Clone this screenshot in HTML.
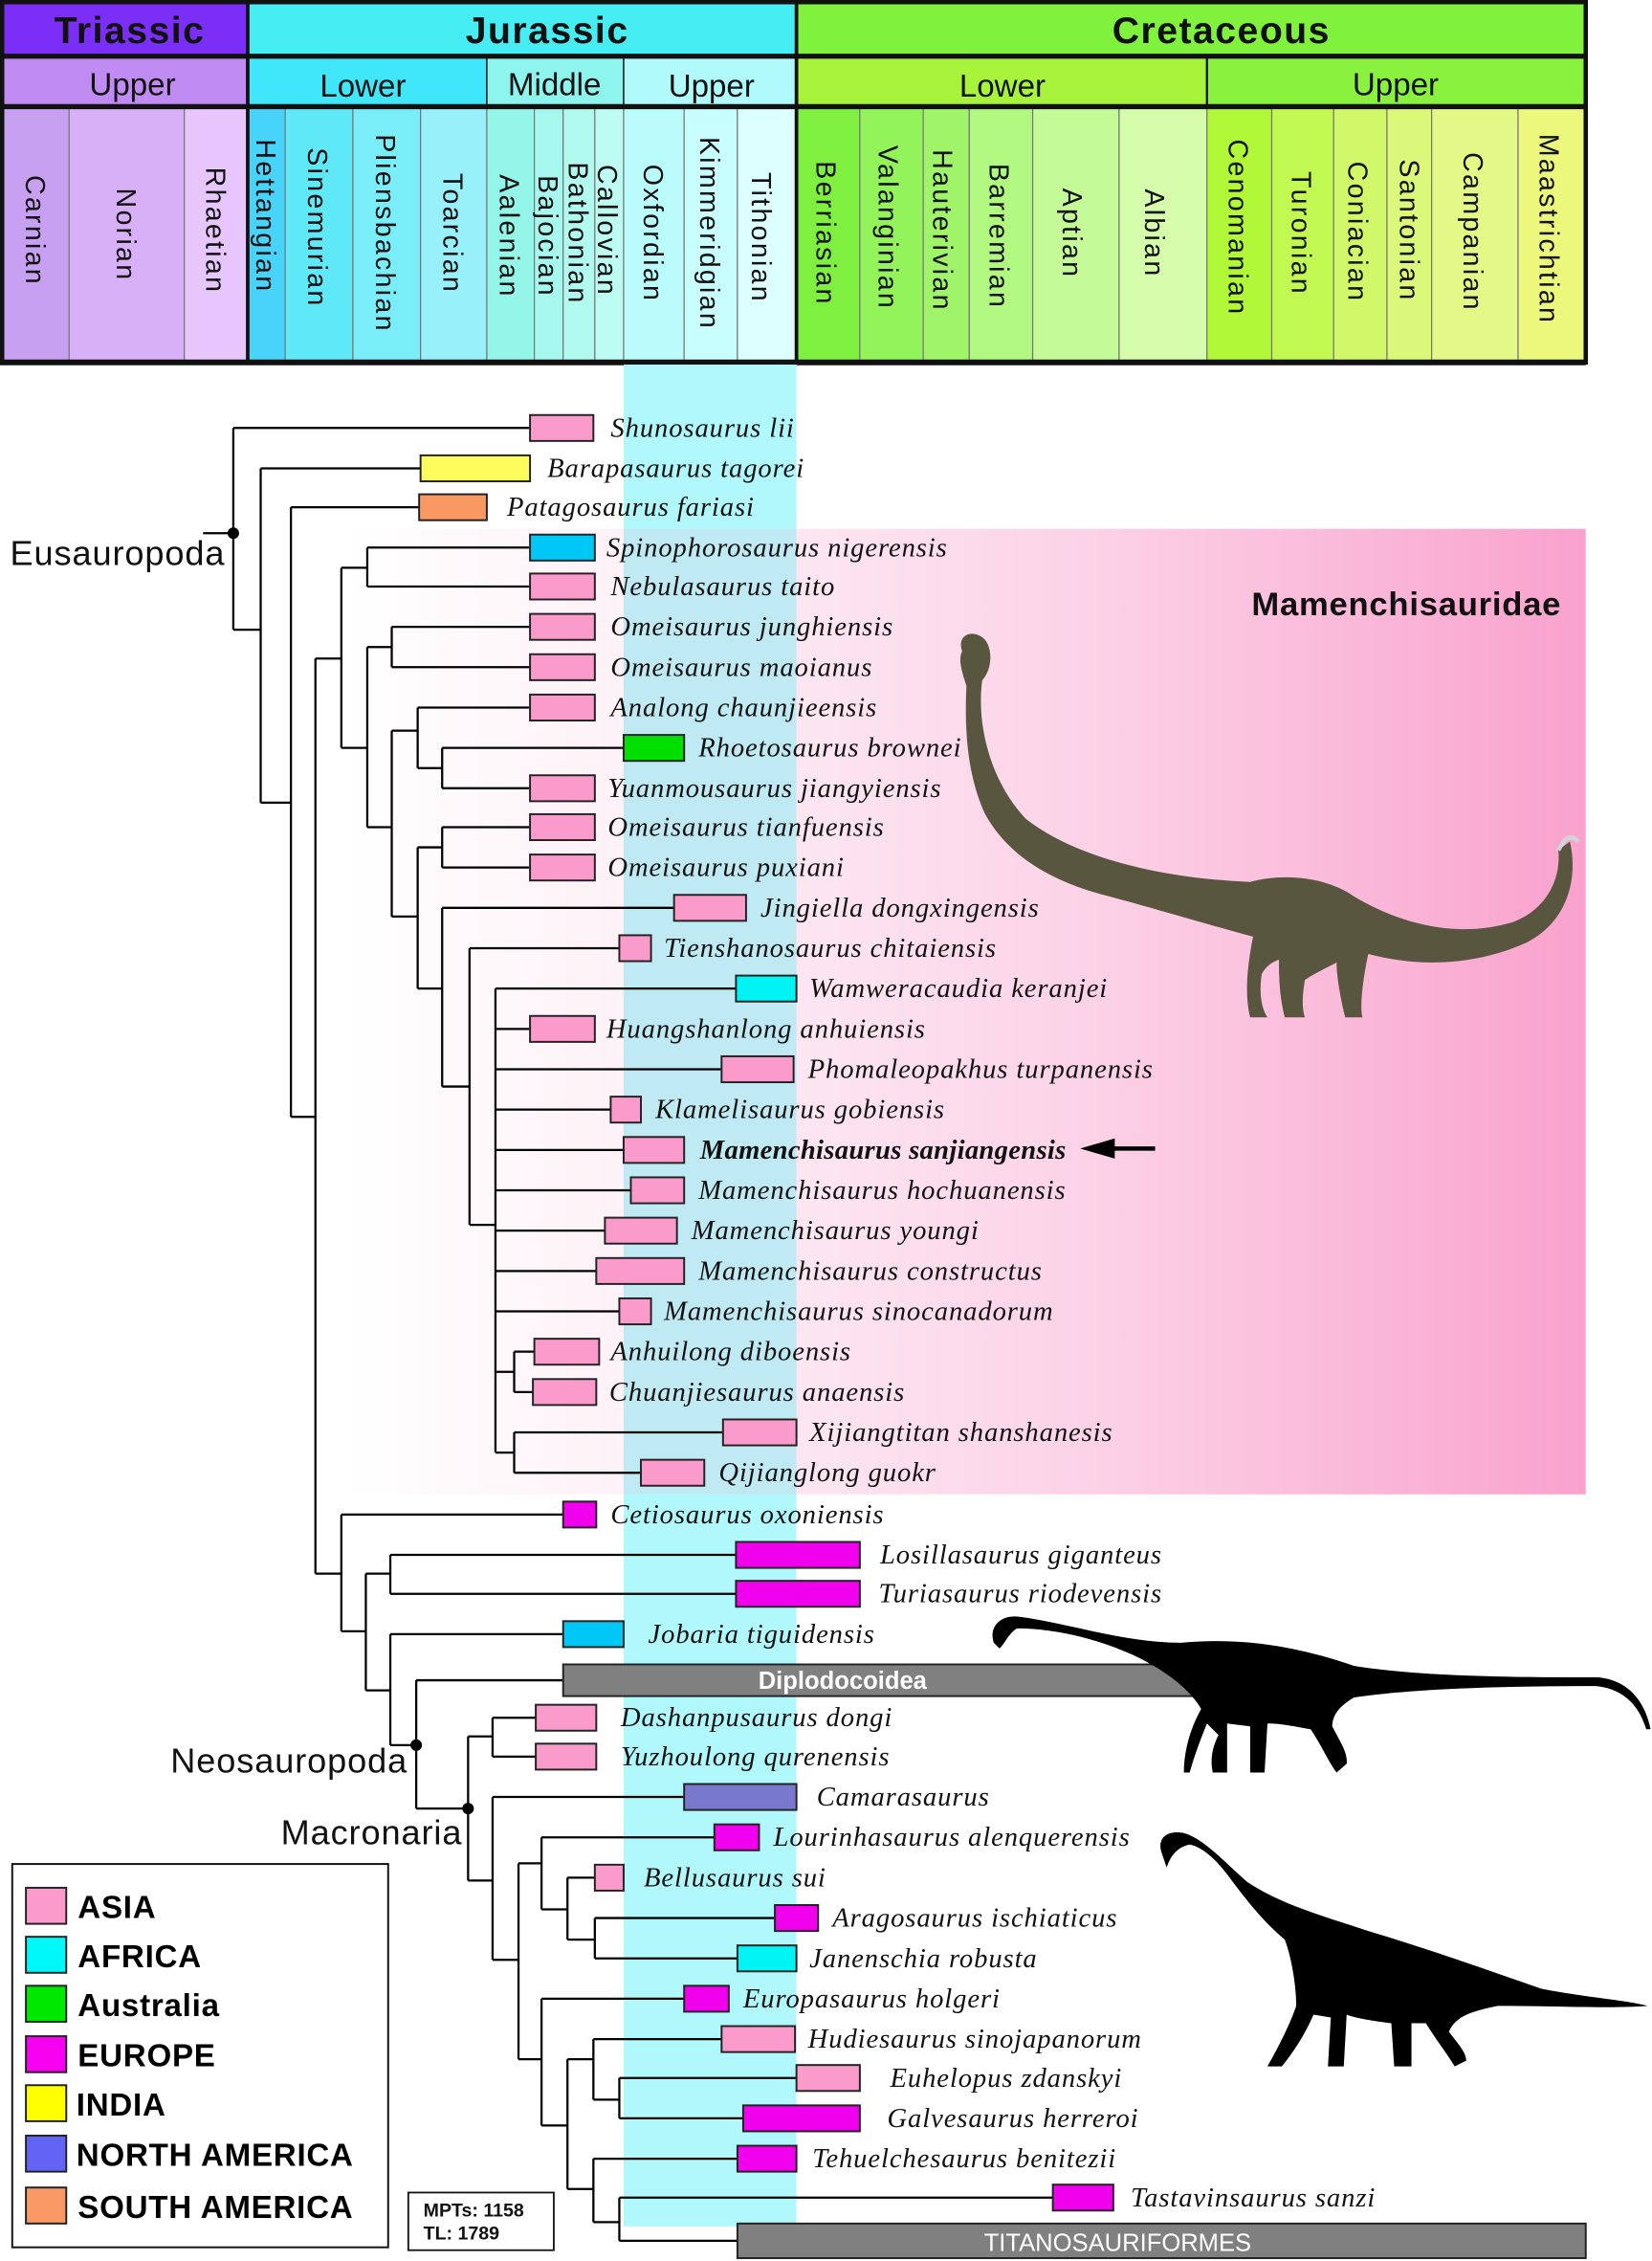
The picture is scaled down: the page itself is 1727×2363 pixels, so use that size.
<!DOCTYPE html>
<html><head><meta charset="utf-8"><style>
html,body{margin:0;padding:0;background:#fff;}
svg{display:block;}
.it{font-family:"Liberation Serif",serif;font-style:italic;font-size:19px;letter-spacing:0.6px;fill:#111;}
.st{font-family:"Liberation Sans",sans-serif;font-size:19px;letter-spacing:1.5px;fill:#111;}
.ep{font-family:"Liberation Sans",sans-serif;font-size:22px;fill:#111;}
.er{font-family:"Liberation Sans",sans-serif;font-size:26px;font-weight:bold;fill:#111;letter-spacing:1px;}
.lg{font-family:"Liberation Sans",sans-serif;font-size:22px;font-weight:bold;fill:#000;letter-spacing:0.5px;}
.cl{font-family:"Liberation Sans",sans-serif;font-size:24px;fill:#111;letter-spacing:0.6px;}
</style></head><body>
<svg width="1727" height="2363" viewBox="0 0 1147 1569" preserveAspectRatio="none" xmlns="http://www.w3.org/2000/svg">
<defs>
<linearGradient id="pk" x1="0" x2="1" y1="0" y2="0">
<stop offset="0" stop-color="#ffffff"/><stop offset="0.25" stop-color="#fdf0f6"/><stop offset="0.6" stop-color="#fcd2e7"/><stop offset="1" stop-color="#f9a2cd"/>
</linearGradient>
</defs>
<rect x="2" y="0" width="170" height="39" fill="#7b2ff6"/>
<rect x="172" y="0" width="381" height="39" fill="#46eef4"/>
<rect x="553" y="0" width="548" height="39" fill="#80f23e"/>
<rect x="2" y="39" width="170" height="35" fill="#c08cf4"/>
<rect x="172" y="39" width="166" height="35" fill="#40e6fa"/>
<rect x="338" y="39" width="95" height="35" fill="#8ef4ee"/>
<rect x="433" y="39" width="120" height="35" fill="#b0fafc"/>
<rect x="553" y="39" width="285" height="35" fill="#a8f43c"/>
<rect x="838" y="39" width="263" height="35" fill="#88f23e"/>
<g stroke="#777" stroke-width="0.8">
<rect x="2" y="74" width="46" height="177" fill="#c8a0f2"/>
<rect x="48" y="74" width="80" height="177" fill="#d8b0f8"/>
<rect x="128" y="74" width="44" height="177" fill="#e6c6fc"/>
<rect x="172" y="74" width="26" height="177" fill="#48d4fa"/>
<rect x="198" y="74" width="47" height="177" fill="#5ee8f8"/>
<rect x="245" y="74" width="47" height="177" fill="#7aeef8"/>
<rect x="292" y="74" width="46" height="177" fill="#98f0fa"/>
<rect x="338" y="74" width="33" height="177" fill="#94f6e8"/>
<rect x="371" y="74" width="20" height="177" fill="#a6f8ee"/>
<rect x="391" y="74" width="22" height="177" fill="#b0faf0"/>
<rect x="413" y="74" width="20" height="177" fill="#bcfcf2"/>
<rect x="433" y="74" width="42" height="177" fill="#bafcfc"/>
<rect x="475" y="74" width="37" height="177" fill="#c8fefe"/>
<rect x="512" y="74" width="41" height="177" fill="#dcffff"/>
<rect x="553" y="74" width="44" height="177" fill="#80f040"/>
<rect x="597" y="74" width="44" height="177" fill="#92f45a"/>
<rect x="641" y="74" width="32" height="177" fill="#a0f46a"/>
<rect x="673" y="74" width="44" height="177" fill="#b0f880"/>
<rect x="717" y="74" width="60" height="177" fill="#c4fa98"/>
<rect x="777" y="74" width="61" height="177" fill="#d4fcaa"/>
<rect x="838" y="74" width="45" height="177" fill="#b0f838"/>
<rect x="883" y="74" width="43" height="177" fill="#c2f852"/>
<rect x="926" y="74" width="37" height="177" fill="#d0f868"/>
<rect x="963" y="74" width="31" height="177" fill="#dcf87a"/>
<rect x="994" y="74" width="60" height="177" fill="#e4f888"/>
<rect x="1054" y="74" width="47" height="177" fill="#ecf87c"/>
</g>
<g stroke="#111" fill="none">
<rect x="1.5" y="1.5" width="1099.5" height="250" stroke-width="3"/>
<line x1="1" y1="39" x2="1101" y2="39" stroke-width="3.5"/>
<line x1="1" y1="74" x2="1101" y2="74" stroke-width="3.5"/>
<line x1="172" y1="0" x2="172" y2="252" stroke-width="2.5"/>
<line x1="553" y1="0" x2="553" y2="252" stroke-width="2.5"/>
<line x1="338" y1="39" x2="338" y2="74" stroke-width="1"/>
<line x1="433" y1="39" x2="433" y2="74" stroke-width="1"/>
<line x1="838" y1="39" x2="838" y2="74" stroke-width="1.5"/>
<line x1="0" y1="251.5" x2="1101" y2="251.5" stroke-width="4"/>
</g>
<text class="er" x="90" y="30" text-anchor="middle">Triassic</text>
<text class="er" x="380" y="30" text-anchor="middle">Jurassic</text>
<text class="er" x="848" y="30" text-anchor="middle">Cretaceous</text>
<text class="ep" x="92" y="66" text-anchor="middle">Upper</text>
<text class="ep" x="252" y="67" text-anchor="middle">Lower</text>
<text class="ep" x="385" y="66" text-anchor="middle">Middle</text>
<text class="ep" x="494" y="67" text-anchor="middle">Upper</text>
<text class="ep" x="696" y="67" text-anchor="middle">Lower</text>
<text class="ep" x="969" y="66" text-anchor="middle">Upper</text>
<g class="st" text-anchor="middle">
<text transform="translate(18,160) rotate(90)">Carnian</text>
<text transform="translate(81,163) rotate(90)">Norian</text>
<text transform="translate(143,160) rotate(90)">Rhaetian</text>
<text transform="translate(178,150) rotate(90)">Hettangian</text>
<text transform="translate(214,158) rotate(90)">Sinemurian</text>
<text transform="translate(261,162) rotate(90)">Pliensbachian</text>
<text transform="translate(308,162) rotate(90)">Toarcian</text>
<text transform="translate(347,164) rotate(90)">Aalenian</text>
<text transform="translate(374,164) rotate(90)">Bajocian</text>
<text transform="translate(395,162) rotate(90)">Bathonian</text>
<text transform="translate(415,160) rotate(90)">Callovian</text>
<text transform="translate(447,162) rotate(90)">Oxfordian</text>
<text transform="translate(486,162) rotate(90)">Kimmeridgian</text>
<text transform="translate(522,165) rotate(90)">Tithonian</text>
<text transform="translate(567,162) rotate(90)">Berriasian</text>
<text transform="translate(610,158) rotate(90)">Valanginian</text>
<text transform="translate(648,160) rotate(90)">Hauterivian</text>
<text transform="translate(687,164) rotate(90)">Barremian</text>
<text transform="translate(738,162) rotate(90)">Aptian</text>
<text transform="translate(795,162) rotate(90)">Albian</text>
<text transform="translate(853,158) rotate(90)">Cenomanian</text>
<text transform="translate(897,162) rotate(90)">Turonian</text>
<text transform="translate(936,161) rotate(90)">Coniacian</text>
<text transform="translate(972,160) rotate(90)">Santonian</text>
<text transform="translate(1016,161) rotate(90)">Campanian</text>
<text transform="translate(1069,159) rotate(90)">Maastrichtian</text>
</g>

<rect x="433" y="253" width="120" height="1292" fill="#b0f8fb"/>
<rect x="240" y="367" width="861" height="670" fill="url(#pk)"/>
<rect x="433" y="367" width="120" height="670" fill="#bfe9f3"/>
<text x="1084" y="427" text-anchor="end" font-family="Liberation Sans, sans-serif" font-weight="bold" font-size="23" fill="#111" letter-spacing="0.5">Mamenchisauridae</text>

<!-- Mamenchisaurus figure -->
<g fill="#58563e">
<path d="M668 452 C664 440 676 436 684 444 C690 452 688 466 682 472 C678 500 686 540 712 568 C750 598 815 610 868 612 C890 606 920 608 940 622 C970 640 1010 652 1050 640 C1072 632 1084 612 1082 590 L1090 584 C1096 610 1088 640 1060 654 C1020 672 980 670 950 662 C946 680 944 700 946 706 L934 706 C930 690 928 676 928 668 C920 672 912 676 906 680 C904 692 904 700 906 706 L892 706 C888 690 888 676 888 666 C882 668 878 672 876 676 C874 690 876 700 880 706 L868 706 C864 690 866 670 870 650 C840 642 800 630 770 622 C730 612 700 594 684 565 C670 535 670 500 671 476 C668 466 665 458 668 452 Z"/>
</g>
<path d="M1082 590 C1086 582 1090 578 1096 584" stroke="#cfd4d6" stroke-width="3" fill="none"/>

<g stroke="#000" stroke-width="1.5" fill="none">
<path d="M141 370 H162 M162 297 V437 M162 297 H368 M162 437 H181
M181 325 V557 M181 325 H292 M181 557 H202
M202 352 V775 M202 352 H291 M202 775 H219
M219 457 V1092 M219 457 H237 M219 1092 H237
M237 394 V519 M237 394 H255 M255 380 V407 M255 380 H368 M255 407 H368 M237 519 H255
M255 449 V574 M255 449 H272 M272 435 V463 M272 435 H368 M272 463 H368 M255 574 H272
M272 507 V636 M272 507 H290 M290 491 V533 M290 491 H368 M290 533 H307 M307 519 V547 M307 519 H433 M307 547 H368 M272 636 H290
M290 588 V686 M290 588 H307 M307 574 V602 M307 574 H368 M307 602 H368 M290 686 H307
M307 630 V754 M307 630 H468 M307 754 H326
M326 658 V850 M326 658 H430 M326 850 H344
M344 686 V1008 M344 686 H511 M344 714 H368 M344 742 H501 M344 770 H424 M344 798 H433 M344 826 H438 M344 854 H420 M344 882 H414 M344 910 H430
M344 952 H357 M357 938 V966 M357 938 H371 M357 966 H370 M344 1008 H357 M357 994 V1022 M357 994 H502 M357 1022 H445
M237 1051 V1132 M237 1051 H391 M237 1132 H254
M254 1092 V1173 M254 1092 H271 M271 1079 V1106 M271 1079 H511 M271 1106 H511 M254 1173 H271
M271 1134 V1211 M271 1134 H391 M271 1211 H289
M289 1166 V1255 M289 1166 H391 M289 1255 H325
M325 1205 V1305 M325 1205 H342 M342 1192 V1219 M342 1192 H372 M342 1219 H372 M325 1305 H342
M342 1247 V1360 M342 1247 H475 M342 1360 H360
M360 1293 V1429 M360 1293 H376 M376 1275 V1325 M376 1275 H496 M376 1325 H394 M394 1303 V1346 M394 1303 H413 M394 1346 H413 M413 1331 V1359 M413 1331 H538 M413 1359 H512
M360 1429 H376 M376 1387 V1475 M376 1387 H475 M376 1475 H394 M394 1429 V1519 M394 1429 H412 M412 1415 V1457 M412 1415 H501 M412 1457 H430 M430 1442 V1470 M430 1442 H553 M430 1470 H516
M394 1519 H412 M412 1498 V1542 M412 1498 H512 M412 1542 H430 M430 1525 V1555 M430 1525 H731 M430 1555 H512"/>
</g>
<circle cx="162" cy="370" r="4" fill="#000"/>
<circle cx="289" cy="1211" r="4" fill="#000"/>
<circle cx="325" cy="1255" r="4" fill="#000"/>
<text class="cl" x="7" y="392">Eusauropoda</text>
<text class="cl" x="283" y="1230" text-anchor="end">Neosauropoda</text>
<text class="cl" x="321" y="1280" text-anchor="end">Macronaria</text>

<g stroke="#222" stroke-width="1.3">
<rect x="368" y="288" width="44" height="18" fill="#fa9bcb"/>
<rect x="292" y="316" width="76" height="18" fill="#fcfc5c"/>
<rect x="291" y="343" width="47" height="18" fill="#f99860"/>
<rect x="368" y="371" width="45" height="18" fill="#00c8f6"/>
<rect x="368" y="398" width="45" height="18" fill="#fa9bcb"/>
<rect x="368" y="426" width="45" height="18" fill="#fa9bcb"/>
<rect x="368" y="454" width="45" height="18" fill="#fa9bcb"/>
<rect x="368" y="482" width="45" height="18" fill="#fa9bcb"/>
<rect x="433" y="510" width="42" height="18" fill="#00e000"/>
<rect x="368" y="538" width="45" height="18" fill="#fa9bcb"/>
<rect x="368" y="565" width="45" height="18" fill="#fa9bcb"/>
<rect x="368" y="593" width="45" height="18" fill="#fa9bcb"/>
<rect x="468" y="621" width="50" height="18" fill="#fa9bcb"/>
<rect x="430" y="649" width="22" height="18" fill="#fa9bcb"/>
<rect x="511" y="677" width="42" height="18" fill="#00f4f4"/>
<rect x="368" y="705" width="45" height="18" fill="#fa9bcb"/>
<rect x="501" y="733" width="50" height="18" fill="#fa9bcb"/>
<rect x="424" y="761" width="21" height="18" fill="#fa9bcb"/>
<rect x="433" y="789" width="42" height="18" fill="#fa9bcb"/>
<rect x="438" y="817" width="37" height="18" fill="#fa9bcb"/>
<rect x="420" y="845" width="50" height="18" fill="#fa9bcb"/>
<rect x="414" y="873" width="61" height="18" fill="#fa9bcb"/>
<rect x="430" y="901" width="22" height="18" fill="#fa9bcb"/>
<rect x="371" y="929" width="45" height="18" fill="#fa9bcb"/>
<rect x="370" y="957" width="44" height="18" fill="#fa9bcb"/>
<rect x="502" y="985" width="51" height="18" fill="#fa9bcb"/>
<rect x="445" y="1013" width="44" height="18" fill="#fa9bcb"/>
<rect x="391" y="1042" width="23" height="18" fill="#f000ec"/>
<rect x="511" y="1070" width="86" height="18" fill="#f000ec"/>
<rect x="511" y="1097" width="86" height="18" fill="#f000ec"/>
<rect x="391" y="1125" width="42" height="18" fill="#00c8f6"/>
<rect x="391" y="1155" width="447" height="22" fill="#808080"/>
<rect x="372" y="1183" width="42" height="18" fill="#fa9bcb"/>
<rect x="372" y="1210" width="42" height="18" fill="#fa9bcb"/>
<rect x="475" y="1238" width="78" height="18" fill="#7878cc"/>
<rect x="496" y="1266" width="31" height="18" fill="#f000ec"/>
<rect x="413" y="1294" width="20" height="18" fill="#fa9bcb"/>
<rect x="538" y="1322" width="30" height="18" fill="#f000ec"/>
<rect x="512" y="1350" width="41" height="18" fill="#00f4f4"/>
<rect x="475" y="1378" width="31" height="18" fill="#f000ec"/>
<rect x="501" y="1406" width="51" height="18" fill="#fa9bcb"/>
<rect x="553" y="1433" width="44" height="18" fill="#fa9bcb"/>
<rect x="516" y="1461" width="81" height="18" fill="#f000ec"/>
<rect x="512" y="1489" width="41" height="18" fill="#f000ec"/>
<rect x="731" y="1516" width="42" height="18" fill="#f000ec"/>
<rect x="512" y="1543" width="589" height="24" fill="#808080"/>
</g>
<text x="585" y="1172" text-anchor="middle" font-family="Liberation Sans, sans-serif" font-weight="bold" font-size="17" fill="#fff">Diplodocoidea</text>
<text x="776" y="1562" text-anchor="middle" font-family="Liberation Sans, sans-serif" font-size="17" fill="#fff">TITANOSAURIFORMES</text>

<g class="it">
<text x="424" y="303">Shunosaurus lii</text>
<text x="380" y="331">Barapasaurus tagorei</text>
<text x="352" y="358">Patagosaurus fariasi</text>
<text x="421" y="386">Spinophorosaurus nigerensis</text>
<text x="424" y="413">Nebulasaurus taito</text>
<text x="424" y="441">Omeisaurus junghiensis</text>
<text x="424" y="469">Omeisaurus maoianus</text>
<text x="424" y="497">Analong chaunjieensis</text>
<text x="485" y="525">Rhoetosaurus brownei</text>
<text x="422" y="553">Yuanmousaurus jiangyiensis</text>
<text x="422" y="580">Omeisaurus tianfuensis</text>
<text x="422" y="608">Omeisaurus puxiani</text>
<text x="528" y="636">Jingiella dongxingensis</text>
<text x="461" y="664">Tienshanosaurus chitaiensis</text>
<text x="562" y="692">Wamweracaudia keranjei</text>
<text x="421" y="720">Huangshanlong anhuiensis</text>
<text x="561" y="748">Phomaleopakhus  turpanensis</text>
<text x="455" y="776">Klamelisaurus gobiensis</text>
<text x="486" y="804" font-weight="bold" letter-spacing="0.2">Mamenchisaurus sanjiangensis</text>
<text x="485" y="832">Mamenchisaurus hochuanensis</text>
<text x="480" y="860">Mamenchisaurus youngi</text>
<text x="485" y="888">Mamenchisaurus constructus</text>
<text x="461" y="916">Mamenchisaurus sinocanadorum</text>
<text x="424" y="944">Anhuilong diboensis</text>
<text x="423" y="972">Chuanjiesaurus anaensis</text>
<text x="562" y="1000">Xijiangtitan shanshanesis</text>
<text x="499" y="1028">Qijianglong guokr</text>
<text x="424" y="1057">Cetiosaurus oxoniensis</text>
<text x="611" y="1085">Losillasaurus giganteus</text>
<text x="610" y="1112">Turiasaurus riodevensis</text>
<text x="450" y="1140">Jobaria tiguidensis</text>
<text x="431" y="1198">Dashanpusaurus dongi</text>
<text x="431" y="1225">Yuzhoulong qurenensis</text>
<text x="567" y="1253">Camarasaurus</text>
<text x="537" y="1281">Lourinhasaurus alenquerensis</text>
<text x="447" y="1309">Bellusaurus sui</text>
<text x="578" y="1337">Aragosaurus ischiaticus</text>
<text x="562" y="1365">Janenschia robusta</text>
<text x="516" y="1393">Europasaurus holgeri</text>
<text x="561" y="1421">Hudiesaurus sinojapanorum</text>
<text x="618" y="1448">Euhelopus zdanskyi</text>
<text x="616" y="1476">Galvesaurus herreroi</text>
<text x="564" y="1504">Tehuelchesaurus benitezii</text>
<text x="785" y="1531">Tastavinsaurus sanzi</text>
</g>
<path d="M802 797 H768" stroke="#000" stroke-width="3"/>
<polygon points="750,797 774,790 774,804" fill="#000"/>

<path fill="#000" d="M690 1140 C686 1128 696 1120 708 1122 C740 1126 780 1140 820 1140 C860 1136 900 1142 940 1156 C990 1164 1060 1164 1110 1164 C1130 1166 1142 1180 1146 1200 L1143 1200 C1138 1184 1128 1172 1108 1170 C1040 1170 980 1172 940 1178 C930 1184 925 1190 925 1198 C930 1208 936 1216 935 1224 L928 1230 C922 1222 918 1212 910 1200 C898 1198 890 1196 880 1196 L878 1230 L868 1230 L868 1198 L852 1196 L852 1230 L842 1230 C840 1220 842 1212 846 1204 L838 1196 C834 1206 830 1216 826 1230 L822 1230 C822 1216 826 1200 834 1186 C826 1172 810 1160 790 1150 C760 1136 730 1130 706 1130 C700 1134 698 1140 694 1144 Z"/>
<path fill="#000" d="M806 1284 C804 1274 812 1270 822 1272 C836 1276 850 1292 866 1306 C890 1322 920 1330 950 1340 C990 1352 1030 1366 1070 1380 C1100 1386 1130 1388 1144 1392 C1120 1394 1080 1392 1040 1392 C1020 1396 1010 1400 1006 1410 C1012 1418 1018 1424 1018 1430 L1010 1434 C1004 1424 996 1414 990 1404 L980 1404 L980 1434 L968 1434 L966 1404 C950 1402 940 1400 935 1398 L933 1434 L922 1434 L924 1400 L912 1398 C906 1412 898 1424 890 1434 L880 1434 C888 1420 896 1404 900 1392 C900 1376 896 1356 892 1346 C878 1334 868 1322 856 1306 C846 1292 836 1282 826 1280 C816 1282 812 1290 810 1296 Z"/>

<rect x="8.5" y="1293.5" width="261" height="266" fill="#fff" stroke="#111" stroke-width="1.3"/>
<g stroke="#222" stroke-width="1.3">
<rect x="18" y="1310" width="28" height="25" fill="#fa9bcb"/>
<rect x="18" y="1344" width="28" height="25" fill="#00f8f8"/>
<rect x="18" y="1378" width="28" height="25" fill="#00e800"/>
<rect x="18" y="1413" width="28" height="25" fill="#f800f0"/>
<rect x="18" y="1447" width="28" height="25" fill="#ffff00"/>
<rect x="18" y="1482" width="28" height="25" fill="#6464f4"/>
<rect x="18" y="1518" width="28" height="25" fill="#f99a66"/>
</g>
<g class="lg">
<text x="54" y="1331">ASIA</text>
<text x="54" y="1365">AFRICA</text>
<text x="54" y="1399">Australia</text>
<text x="54" y="1434">EUROPE</text>
<text x="53" y="1468">INDIA</text>
<text x="53" y="1503">NORTH AMERICA</text>
<text x="54" y="1539">SOUTH AMERICA</text>
</g>
<rect x="283.5" y="1521.5" width="101" height="40" fill="#fff" stroke="#111" stroke-width="1.2"/>
<text x="294" y="1538" font-family="Liberation Sans, sans-serif" font-weight="bold" font-size="13" fill="#111">MPTs: 1158</text>
<text x="294" y="1554" font-family="Liberation Sans, sans-serif" font-weight="bold" font-size="13" fill="#111">TL: 1789</text>
</svg>
</body></html>
